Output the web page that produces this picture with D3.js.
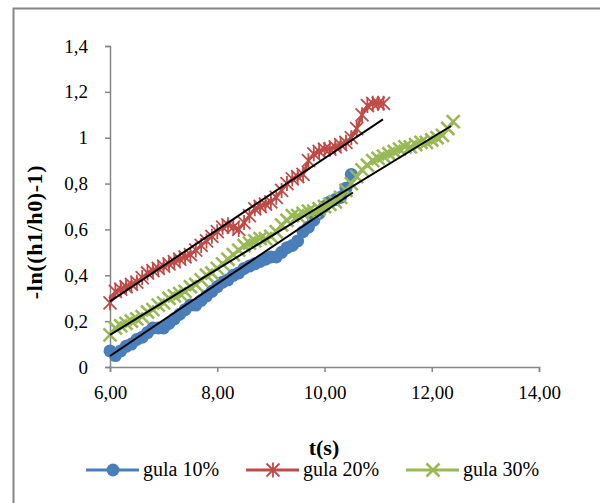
<!DOCTYPE html>
<html>
<head>
<meta charset="utf-8">
<script src="https://cdn.jsdelivr.net/npm/d3@7"></script>
<style>
  html, body { margin: 0; padding: 0; background: white; }
  svg { display: block; }
  text { font-family: "Liberation Serif", "DejaVu Serif", serif; fill: #000; }
</style>
</head>
<body>
<svg id="chart" width="600" height="503"></svg>
<script>
// time (s) for each series, 0.1 s apart
const tBlue = d3.range(60, 106).map(d => d / 10);
const tRed = d3.range(60, 112).map(d => d / 10);
const tGreen = d3.range(60, 125).map(d => d / 10);

const gula10 = [0.07, 0.05, 0.07, 0.09, 0.10, 0.12, 0.13, 0.15, 0.17, 0.17,
  0.17, 0.19, 0.21, 0.23, 0.25, 0.27, 0.27, 0.29, 0.31, 0.33,
  0.35, 0.37, 0.38, 0.40, 0.41, 0.43, 0.44, 0.45, 0.46, 0.47,
  0.48, 0.48, 0.50, 0.52, 0.53, 0.55, 0.59, 0.61, 0.64, 0.67,
  0.70, 0.72, 0.73, 0.74, 0.78, 0.84];

const gula20 = [0.28, 0.33, 0.34, 0.35, 0.36, 0.37, 0.39, 0.41, 0.42, 0.43,
  0.44, 0.45, 0.46, 0.47, 0.48, 0.49, 0.51, 0.53, 0.55, 0.57,
  0.59, 0.61, 0.62, 0.61, 0.60, 0.63, 0.66, 0.69, 0.70, 0.71,
  0.72, 0.74, 0.77, 0.80, 0.82, 0.83, 0.84, 0.90, 0.93, 0.94,
  0.95, 0.95, 0.96, 0.97, 0.98, 1.00, 1.04, 1.10, 1.14, 1.15,
  1.15, 1.15];

const gula30 = [0.14, 0.17, 0.18, 0.19, 0.20, 0.21, 0.22, 0.24, 0.25, 0.27,
  0.28, 0.30, 0.31, 0.32, 0.33, 0.35, 0.36, 0.38, 0.40, 0.41,
  0.43, 0.45, 0.47, 0.49, 0.51, 0.53, 0.54, 0.55, 0.56, 0.56,
  0.57, 0.59, 0.62, 0.64, 0.66, 0.66, 0.67, 0.68, 0.68, 0.69,
  0.70, 0.71, 0.72, 0.74, 0.77, 0.80, 0.83, 0.86, 0.88, 0.90,
  0.91, 0.92, 0.93, 0.94, 0.95, 0.96, 0.96, 0.97, 0.98, 0.98,
  0.99, 1.00, 1.01, 1.04, 1.07];

// linear trend lines, start and end
const trendT = [[6, 10.53], [6, 11.09], [6, 12.36]];
const trendV = [[0.048, 0.761], [0.286, 1.080], [0.14, 1.051]];

const seriesNames = ["gula 10%", "gula 20%", "gula 30%"];
const xTicks = [6, 8, 10, 12, 14];
const yTicks = [0, 0.2, 0.4, 0.6, 0.8, 1, 1.2, 1.4];

const colors = ["#4A7EBB", "#BE4B48", "#98B954"];
const axisColor = "#868686";

const series = [
  {name: seriesNames[0], t: tBlue, v: gula10, shape: "circle"},
  {name: seriesNames[1], t: tRed, v: gula20, shape: "star"},
  {name: seriesNames[2], t: tGreen, v: gula30, shape: "cross"}
].map((s, i) => ({...s, color: colors[i], trend: trendT[i].map((t, j) => [t, trendV[i][j]])}));

const svg = d3.select("#chart");
const x = d3.scaleLinear().domain([6, 14]).range([110, 539]);
const y = d3.scaleLinear().domain([0, 1.4]).range([367, 46]);
const comma = v => d3.format(".2f")(v).replace(".", ",");
const commaY = v => (v === 0 ? "0" : d3.format("~g")(v).replace(".", ","));

// chart border (runs off the right and bottom edges)
svg.append("rect")
  .attr("x", 13.5).attr("y", 8.5)
  .attr("width", 620).attr("height", 520)
  .attr("fill", "none").attr("stroke", axisColor).attr("stroke-width", 2);

// axes
const xAxis = svg.append("g").attr("transform", "translate(0,367)")
  .call(d3.axisBottom(x).tickValues(xTicks).tickFormat(comma).tickSize(5).tickPadding(14));
const yAxis = svg.append("g").attr("transform", "translate(110,0)")
  .call(d3.axisLeft(y).tickValues(yTicks).tickFormat(commaY).tickSize(5).tickPadding(17));

[xAxis, yAxis].forEach(a => {
  a.attr("font-family", null);
  a.select(".domain").attr("stroke", axisColor).attr("stroke-width", 1.5);
  a.selectAll(".tick line").attr("stroke", axisColor).attr("stroke-width", 1.5);
  a.selectAll(".tick text").style("font-size", "19px")
    .style("font-family", "'Liberation Serif', serif").attr("fill", "#000");
});

// marker drawing
function marker(sel, shape, color) {
  const s = 6.5;
  if (shape === "circle") {
    sel.append("circle").attr("r", s).attr("fill", color);
  } else if (shape === "star") {
    sel.append("path")
      .attr("d", `M${-s},${-s}L${s},${s}M${-s},${s}L${s},${-s}M0,${-s - 1}L0,${s + 1}`)
      .attr("stroke", color).attr("stroke-width", 1.8).attr("fill", "none");
  } else {
    sel.append("path")
      .attr("d", `M${-s},${-s}L${s},${s}M${-s},${s}L${s},${-s}`)
      .attr("stroke", color).attr("stroke-width", 2.6).attr("fill", "none");
  }
}

const line = d3.line().x(d => x(d[0])).y(d => y(d[1]));
const plot = svg.append("g");

series.forEach(s => {
  const pts = s.t.map((t, i) => [t, s.v[i]]);
  plot.append("path").datum(pts)
    .attr("d", line).attr("fill", "none")
    .attr("stroke", s.color).attr("stroke-width", 3);
  plot.append("g").selectAll("g").data(pts).join("g")
    .attr("transform", d => `translate(${x(d[0])},${y(d[1])})`)
    .each(function () { marker(d3.select(this), s.shape, s.color); });
});

// trend lines on top
plot.selectAll(".trend").data(series).join("path")
  .attr("class", "trend")
  .attr("d", s => line(s.trend))
  .attr("fill", "none").attr("stroke", "#000").attr("stroke-width", 2);

// axis titles
svg.append("text")
  .attr("transform", "translate(42,232) rotate(-90)")
  .attr("text-anchor", "middle")
  .style("font-size", "22px").style("font-weight", "bold")
  .style("letter-spacing", "0.6px")
  .text("-ln((h1/h0)-1)");

svg.append("text")
  .attr("x", 324).attr("y", 455)
  .attr("text-anchor", "middle")
  .style("font-size", "22px").style("font-weight", "bold")
  .text("t(s)");

// legend
const legendX = [86, 246, 406];
const legend = svg.append("g").selectAll("g").data(series).join("g")
  .attr("transform", (d, i) => `translate(${legendX[i]},470)`);
legend.append("line")
  .attr("x1", 0).attr("x2", 53).attr("y1", 0).attr("y2", 0)
  .attr("stroke", d => d.color).attr("stroke-width", 3);
legend.each(function (d) {
  marker(d3.select(this).append("g").attr("transform", "translate(27,0)"), d.shape, d.color);
});
legend.append("text")
  .attr("x", 57).attr("y", 6)
  .style("font-size", "20px")
  .text(d => d.name);
</script>
</body>
</html>
